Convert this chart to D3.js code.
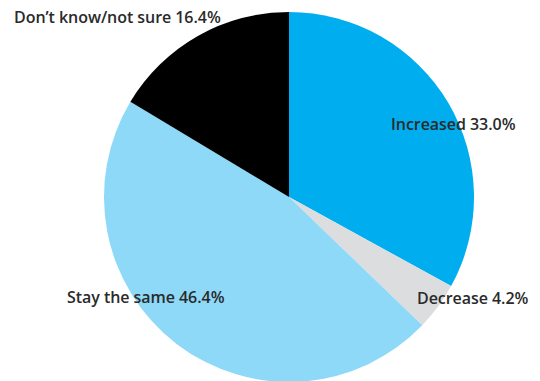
<!DOCTYPE html>
<html><head><meta charset="utf-8">
<script src="https://cdn.jsdelivr.net/npm/d3@7/dist/d3.min.js"></script>
<style>html,body{margin:0;padding:0;background:#fff;}svg{display:block;}</style>
</head><body>
<script>
const categories = ["Increased", "Decrease", "Stay the same", "Don\u2019t know/not sure"];
const values = [33.0, 4.2, 46.4, 16.4];
const colors = ["#00aeef", "#dcdddf", "#8ed8f8", "#000000"];
const labels = ["Increased 33.0%", "Decrease 4.2%", "Stay the same 46.4%", "Don\u2019t know/not sure 16.4%"];

const W = 540, H = 381;
const cx = 289, cy = 197, R = 185;
// label anchor (left x, baseline y) per category
const labelPos = [[391, 130], [417, 304], [67, 303], [14, 23]];

const svg = d3.select("body").append("svg").attr("width", W).attr("height", H);
const g = svg.append("g").attr("transform", `translate(${cx},${cy})`);

const pie = d3.pie().sort(null).value(d => d.v);
const arc = d3.arc().innerRadius(0).outerRadius(R);
const data = categories.map((c, i) => ({c, v: values[i], col: colors[i], lab: labels[i]}));

g.selectAll("path").data(pie(data)).join("path")
  .attr("d", arc).attr("fill", d => d.data.col);

svg.selectAll("text.lab").data(data).join("text").attr("class", "lab")
  .attr("x", (d, i) => labelPos[i][0]).attr("y", (d, i) => labelPos[i][1])
  .attr("font-family", "'Open Sans', sans-serif").attr("font-weight", 600)
  .attr("font-size", 16).attr("fill", "#2a2a2a")
  .attr("letter-spacing", -0.05)
  .text(d => d.lab);
</script>
</body></html>
